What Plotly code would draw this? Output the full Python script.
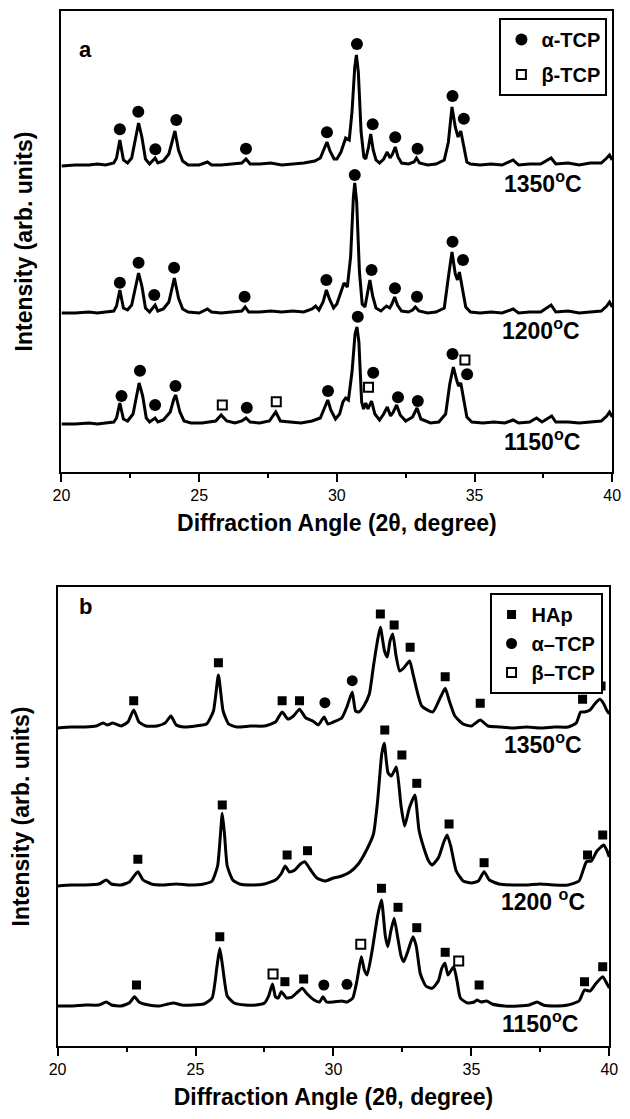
import plotly.graph_objects as go

# ---------------- panel a : XRD patterns (arb. units) ----------------
a1350_x = [20.0, 20.5, 21.0, 21.3, 21.6, 21.9, 22.0, 22.12, 22.25, 22.4, 22.55, 22.7, 22.8, 22.92, 23.05, 23.2,
           23.3, 23.4, 23.5, 23.7, 23.9, 24.05, 24.12, 24.25, 24.4, 24.6, 25.0, 25.3, 25.45, 25.8, 26.2, 26.55,
           26.7, 26.85, 27.2, 27.6, 28.0, 28.4, 28.8, 29.2, 29.4, 29.55, 29.64, 29.75, 29.9, 30.0, 30.15, 30.32,
           30.45, 30.55, 30.65, 30.71, 30.78, 30.88, 30.98, 31.05, 31.15, 31.23, 31.32, 31.42, 31.55, 31.7, 31.83,
           31.93, 32.02, 32.12, 32.22, 32.35, 32.6, 32.8, 32.89, 33.0, 33.3, 33.6, 33.9, 34.05, 34.18, 34.3, 34.4,
           34.5, 34.6, 34.72, 34.85, 35.2, 35.6, 36.0, 36.4, 36.6, 37.0, 37.4, 37.78, 37.95, 38.4, 38.8, 39.2,
           39.6, 39.8, 39.9, 40.0]
a1350_y = [306, 307, 307, 308, 307, 309, 314, 332, 312, 309, 314, 335, 349, 335, 313, 308,
           311, 314, 309, 311, 318, 335, 341, 322, 311, 307, 307, 310, 307, 307, 308, 309,
           313, 308, 308, 309, 307, 308, 309, 311, 314, 324, 330, 321, 313, 313, 320, 334,
           332, 360, 405, 417, 400, 340, 315, 313, 325, 338, 322, 312, 309, 313, 320,
           314, 318, 325, 315, 309, 308, 310, 314, 309, 307, 308, 312, 330, 365, 345, 335,
           341, 325, 310, 308, 307, 308, 307, 312, 307, 308, 308, 314, 308, 309, 307, 309,
           309, 314, 317, 312]

a1200_x = [20.0, 20.5, 21.0, 21.3, 21.6, 21.9, 22.0, 22.12, 22.25, 22.4, 22.55, 22.7, 22.8, 22.92, 23.05, 23.2,
           23.3, 23.4, 23.5, 23.7, 23.9, 24.03, 24.1, 24.25, 24.4, 24.6, 25.0, 25.3, 25.45, 25.8, 26.2, 26.55,
           26.67, 26.8, 27.2, 27.6, 28.0, 28.4, 28.8, 29.1, 29.23, 29.35, 29.5, 29.62, 29.73, 29.88, 30.0, 30.15,
           30.26, 30.38, 30.5, 30.6, 30.65, 30.72, 30.82, 30.92, 31.02, 31.12, 31.2, 31.3, 31.42, 31.6, 31.7,
           31.8, 31.92, 32.0, 32.1, 32.2, 32.35, 32.6, 32.75, 32.85, 32.98, 33.3, 33.6, 33.9, 34.05, 34.18, 34.3,
           34.38, 34.45, 34.55, 34.68, 34.85, 35.2, 35.6, 36.0, 36.4, 36.6, 37.0, 37.4, 37.78, 37.95, 38.4, 38.8,
           39.2, 39.6, 39.8, 39.9, 40.0]
a1200_y = [159, 159, 160, 159, 160, 161, 166, 182, 164, 162, 167, 188, 199, 186, 164, 160,
           163, 167, 161, 163, 170, 188, 194, 174, 163, 160, 159, 163, 160, 159, 160, 161,
           165, 160, 160, 161, 160, 161, 160, 163, 166, 162, 170, 182, 173, 164, 168, 180,
           189, 185, 215, 275, 289, 270, 200, 168, 165, 180, 192, 176, 164, 161, 164,
           166, 164, 168, 175, 167, 161, 160, 162, 165, 161, 159, 160, 164, 195, 220, 198,
           192, 200, 185, 165, 160, 159, 160, 159, 163, 159, 160, 160, 167, 160, 161, 159,
           160, 161, 166, 170, 165]

a1150_x = [20.0, 20.5, 21.0, 21.3, 21.6, 21.9, 22.0, 22.12, 22.25, 22.4, 22.6, 22.75, 22.82, 22.95, 23.08, 23.2,
           23.3, 23.4, 23.5, 23.7, 23.95, 24.08, 24.15, 24.3, 24.45, 24.7, 25.1, 25.4, 25.6, 25.8, 26.0, 26.3,
           26.55, 26.7, 26.85, 27.2, 27.55, 27.78, 27.95, 28.3, 28.7, 29.1, 29.4, 29.55, 29.67, 29.78, 29.95, 30.1,
           30.22, 30.32, 30.42, 30.55, 30.66, 30.73, 30.8, 30.9, 30.97, 31.05, 31.13, 31.26, 31.38, 31.55, 31.7,
           31.83, 31.95, 32.05, 32.17, 32.3, 32.5, 32.75, 32.91, 33.05, 33.4, 33.7, 33.95, 34.1, 34.23, 34.35,
           34.42, 34.5, 34.6, 34.72, 34.9, 35.3, 35.7, 36.1, 36.4, 36.6, 37.0, 37.25, 37.45, 37.8, 37.95, 38.4,
           38.8, 39.2, 39.6, 39.8, 39.9, 40.0]
a1150_y = [48, 48, 49, 48, 49, 50, 54, 69, 53, 51, 58, 82, 89, 76, 54, 50,
           52, 54, 50, 52, 60, 73, 77, 60, 51, 49, 49, 50, 51, 57, 51, 49,
           51, 54, 50, 49, 51, 60, 51, 50, 49, 51, 54, 64, 72, 62, 53, 58,
           70, 74, 72, 100, 138, 145, 130, 70, 63, 69, 63, 71, 58, 52, 58,
           65, 56, 60, 67, 57, 51, 55, 64, 53, 49, 50, 58, 88, 105, 92,
           86, 89, 75, 55, 50, 49, 50, 49, 52, 49, 50, 54, 50, 56, 50, 50,
           49, 50, 51, 56, 60, 55]

a_alpha_x = [22.12, 22.79, 23.41, 24.17, 26.70, 29.64, 30.73, 31.30, 32.12, 32.93, 34.20, 34.61,
             22.12, 22.80, 23.37, 24.09, 26.65, 29.62, 30.65, 31.26, 32.11, 32.91, 34.20, 34.58,
             22.18, 22.85, 23.40, 24.14, 26.73, 29.68, 30.76, 31.32, 32.22, 32.94, 34.20, 34.73]
a_alpha_y = [342.7, 360.3, 322.7, 352, 323.3, 339.7, 428, 347.7, 334.7, 323.3, 376, 353.3,
             189.3, 209.3, 177, 204.3, 175.3, 192, 297, 202, 183.7, 175.3, 230.3, 212,
             76, 101.3, 67, 86, 64.3, 81, 155.3, 99.3, 74.7, 71, 118, 97.7]
a_beta_x = [25.84, 27.80, 31.15, 34.65]
a_beta_y = [67, 70.3, 84.7, 112]

# ---------------- panel b ----------------
b1350_x = [20.0, 20.5, 21.0, 21.4, 21.65, 21.8, 22.0, 22.3, 22.55, 22.76, 22.95, 23.2, 23.6, 23.9, 24.11, 24.3,
           24.6, 25.0, 25.4, 25.65, 25.83, 26.0, 26.2, 26.5, 27.0, 27.5, 27.9, 28.14, 28.35, 28.55, 28.77, 29.0,
           29.25, 29.45, 29.66, 29.8, 30.0, 30.3, 30.5, 30.68, 30.8, 30.92, 31.1, 31.3, 31.45, 31.6, 31.7, 31.85,
           31.95, 32.05, 32.15, 32.27, 32.4, 32.55, 32.76, 32.9, 33.2, 33.6, 33.9, 34.05, 34.2, 34.4, 34.7, 35.0,
           35.32, 35.6, 36.0, 36.5, 37.0, 37.5, 38.0, 38.5, 38.8, 38.96, 39.1, 39.3, 39.5, 39.66, 39.8, 39.9, 40.0]
b1350_y = [318, 319, 319, 320, 323, 321, 323, 320, 324, 336, 324, 320, 320, 323, 330, 321,
           319, 320, 322, 335, 371, 335, 322, 319, 320, 320, 324, 334, 327, 330, 336.7, 328,
           325, 321, 329, 322, 324, 328, 340, 354, 335, 334, 340, 352, 380, 406, 418.7, 395,
           389, 405, 412, 390, 375, 378, 385, 370, 340, 334, 350, 357.7, 345, 330, 322, 320,
           326, 320, 319, 318, 319, 318, 319, 319, 323, 334, 334, 336, 343, 346.7, 342, 336, 332]

b1200_x = [20.0, 20.5, 21.0, 21.5, 21.77, 21.95, 22.3, 22.6, 22.91, 23.1, 23.4, 23.8, 24.3, 24.8, 25.3, 25.6,
           25.8, 25.9, 25.97, 26.05, 26.15, 26.35, 26.6, 27.0, 27.5, 27.9, 28.1, 28.25, 28.4, 28.6, 28.8, 28.96,
           29.15, 29.4, 29.7, 30.0, 30.3, 30.6, 30.9, 31.2, 31.45, 31.6, 31.75, 31.84, 31.98, 32.1, 32.28, 32.45,
           32.58, 32.75, 32.95, 33.1, 33.3, 33.45, 33.58, 33.8, 34.0, 34.12, 34.25, 34.45, 34.7, 35.0, 35.25, 35.46,
           35.65, 36.0, 36.5, 37.0, 37.5, 38.0, 38.5, 38.9, 39.17, 39.35, 39.55, 39.8, 39.92, 40.0]
b1200_y = [160, 161, 161, 162, 166, 162, 161, 164, 174.3, 166, 162, 161, 162, 161, 162, 165,
           180, 210, 232.7, 212, 180, 166, 162, 161, 162, 166, 172, 180, 174, 176, 182, 184.3,
           177, 168, 165, 168, 170, 174, 182, 196, 212, 245, 292, 302.7, 273, 270, 279, 240,
           220, 238, 251, 216, 196, 185, 181, 188, 204, 211, 200, 175, 165, 163, 165, 174.3,
           166, 162, 161, 161, 162, 161, 161, 165, 184.3, 185, 195, 201, 195, 189]

b1150_x = [20.0, 20.5, 21.0, 21.5, 21.77, 21.95, 22.3, 22.6, 22.79, 22.95, 23.3, 23.7, 24.0, 24.2, 24.5, 24.9,
           25.3, 25.6, 25.78, 25.88, 25.98, 26.15, 26.4, 26.8, 27.2, 27.5, 27.65, 27.79, 27.9, 28.0, 28.11, 28.3,
           28.5, 28.7, 28.87, 29.05, 29.3, 29.5, 29.62, 29.75, 30.0, 30.3, 30.5, 30.7, 30.85, 31.01, 31.12, 31.22,
           31.4, 31.6, 31.74, 31.88, 31.97, 32.08, 32.2, 32.32, 32.45, 32.55, 32.7, 32.88, 33.0, 33.15, 33.35, 33.58,
           33.8, 33.93, 34.04, 34.15, 34.25, 34.36, 34.48, 34.6, 34.85, 35.1, 35.2, 35.35, 35.55, 35.75, 36.2, 36.7,
           37.1, 37.38, 37.6, 38.0, 38.5, 38.9, 39.1, 39.3, 39.5, 39.76, 39.9, 40.0]
b1150_y = [40, 40, 41, 41, 44, 41, 40, 43, 49.3, 44, 41, 40, 42, 43, 41, 41,
           42, 48, 80, 97.7, 80, 50, 43, 41, 41, 43, 50, 62, 49, 48, 54.3, 48,
           49, 54, 57.7, 52, 46, 44, 49.3, 44, 44, 45, 44, 48, 65, 89.3, 76, 71,
           95, 130, 146, 110, 99.3, 115, 127.7, 110, 90, 84.3, 95, 109.3, 100, 72, 60, 57.7,
           65, 78, 82.7, 71, 75, 79.3, 65, 48, 43, 44, 46, 44, 45, 42, 40, 40,
           41, 44, 41, 40, 41, 45, 56, 55, 62, 69.3, 63, 58]

b_hap_x = [22.76, 25.83, 28.14, 28.77, 31.70, 32.20, 32.78, 34.05, 35.32, 39.03, 39.70,
           22.91, 25.97, 28.32, 29.06, 31.86, 32.48, 33.02, 34.19, 35.46, 39.21, 39.76,
           22.86, 25.88, 28.24, 28.92, 31.74, 32.34, 33.02, 34.05, 35.28, 39.10, 39.76]
b_hap_y = [345.3, 383.3, 345.3, 345.3, 432, 421, 398.7, 369.3, 342.7, 346.7, 360,
           186.7, 241, 191, 195.3, 316, 291, 262.7, 222, 183.3, 191, 211,
           61, 109.3, 64.3, 67, 157.7, 138.7, 118.3, 93.7, 61, 64.3, 79.3]
b_alpha_x = [29.69, 30.68, 29.65, 30.49]
b_alpha_y = [343.3, 365.3, 61, 61.7]
b_beta_x = [27.81, 30.99, 34.54]
b_beta_y = [72, 101.7, 85]

temps = ["1350", "1200", "1150"]
a_label_x = [37.5, 37.42, 37.44]
a_label_y = [290, 143, 32]
b_label_x = [37.6, 37.6, 37.5]
b_label_y = [303, 146, 24]

FONT = "Liberation Sans"
W, H = 630, 1119

fig = go.Figure()

line = dict(color="black", width=3)
for xs, ys in [(a1350_x, a1350_y), (a1200_x, a1200_y), (a1150_x, a1150_y)]:
    fig.add_trace(go.Scatter(x=xs, y=ys, mode="lines", line=line, showlegend=False,
                             xaxis="x", yaxis="y"))
# panel b peaks are broad and rounded -> light spline smoothing
line_b = dict(color="black", width=3, shape="spline", smoothing=0.5)
for xs, ys in [(b1350_x, b1350_y), (b1200_x, b1200_y), (b1150_x, b1150_y)]:
    fig.add_trace(go.Scatter(x=xs, y=ys, mode="lines", line=line_b, showlegend=False,
                             xaxis="x2", yaxis="y2"))

# markers, panel a
fig.add_trace(go.Scatter(x=a_alpha_x, y=a_alpha_y, mode="markers", name="α-TCP",
                         marker=dict(symbol="circle", size=12, color="black"),
                         xaxis="x", yaxis="y", legend="legend", legendgroup="a1"))
fig.add_trace(go.Scatter(x=a_beta_x, y=a_beta_y, mode="markers", name="β-TCP",
                         marker=dict(symbol="square-open", size=9, color="black", line=dict(width=2)),
                         xaxis="x", yaxis="y", legend="legend", legendgroup="a2"))
# markers, panel b
fig.add_trace(go.Scatter(x=b_hap_x, y=b_hap_y, mode="markers", name="HAp",
                         marker=dict(symbol="square", size=9, color="black"),
                         xaxis="x2", yaxis="y2", legend="legend2"))
fig.add_trace(go.Scatter(x=b_alpha_x, y=b_alpha_y, mode="markers", name="α–TCP",
                         marker=dict(symbol="circle", size=11, color="black"),
                         xaxis="x2", yaxis="y2", legend="legend2"))
fig.add_trace(go.Scatter(x=b_beta_x, y=b_beta_y, mode="markers", name="β–TCP",
                         marker=dict(symbol="square-open", size=9, color="black", line=dict(width=2)),
                         xaxis="x2", yaxis="y2", legend="legend2"))

tickfont = dict(family=FONT, size=16, color="black")
titlefont = dict(family=FONT, size=23, color="black", weight="bold")


def xax(domain, anchor):
    return dict(domain=domain, anchor=anchor, range=[20, 40], showgrid=False, zeroline=False,
                showline=True, linecolor="black", linewidth=2, mirror=True,
                ticks="outside", ticklen=8, tickwidth=2, tickcolor="black",
                tickvals=[20, 25, 30, 35, 40], tickfont=tickfont,
                minor=dict(tickvals=[22.5, 27.5, 32.5, 37.5], ticks="outside", ticklen=4,
                           tickwidth=2, tickcolor="black"),
                title=dict(text="Diffraction Angle (2θ, degree)", font=titlefont, standoff=12))


def yax(domain, anchor, top):
    return dict(domain=domain, anchor=anchor, range=[0, top], showgrid=False, zeroline=False,
                showline=True, linecolor="black", linewidth=2, mirror=True,
                showticklabels=False, ticks="",
                title=dict(text="Intensity (arb. units)", font=titlefont, standoff=20))


fig.update_layout(
    width=W, height=H,
    margin=dict(l=0, r=0, t=0, b=0),
    paper_bgcolor="white", plot_bgcolor="white",
    xaxis=xax([54 / W, 621 / W], "y"),
    yaxis=yax([1 - 472 / H, 1 - 11 / H], "x", 461),
    xaxis2=xax([50 / W, 618 / W], "y2"),
    yaxis2=yax([1 - 1046 / H, 1 - 587 / H], "x2", 459),
    legend=dict(x=616 / W, xanchor="right", y=1 - 18 / H, yanchor="top",
                bordercolor="black", borderwidth=2, bgcolor="white",
                traceorder="grouped", tracegroupgap=6,
                font=dict(family=FONT, size=20, color="black", weight="bold")),
    legend2=dict(x=611 / W, xanchor="right", y=1 - 593 / H, yanchor="top",
                 bordercolor="black", borderwidth=2, bgcolor="white",
                 font=dict(family=FONT, size=20, color="black", weight="bold")),
)

# panel letters
for txt, yy in [("a", 35), ("b", 606)]:
    fig.add_annotation(text=txt, xref="paper", yref="paper", x=70 / W, y=1 - yy / H,
                       showarrow=False, font=dict(family=FONT, size=22, color="black", weight="bold"))

# temperature labels
lab_font = dict(family=FONT, size=23, color="black", weight="bold")
for t, xx, yy in zip(temps, a_label_x, a_label_y):
    fig.add_annotation(text=t + "<sup>o</sup>C", x=xx, y=yy, xref="x", yref="y",
                       showarrow=False, font=lab_font)
for t, xx, yy in zip(temps, b_label_x, b_label_y):
    sp = " " if t == "1200" else ""
    fig.add_annotation(text=t + sp + "<sup>o</sup>C", x=xx, y=yy, xref="x2", yref="y2",
                       showarrow=False, font=lab_font)

fig.write_html("out.html", config={"displayModeBar": False},
               post_script="document.body.style.margin='0';document.body.style.overflow='hidden';")
